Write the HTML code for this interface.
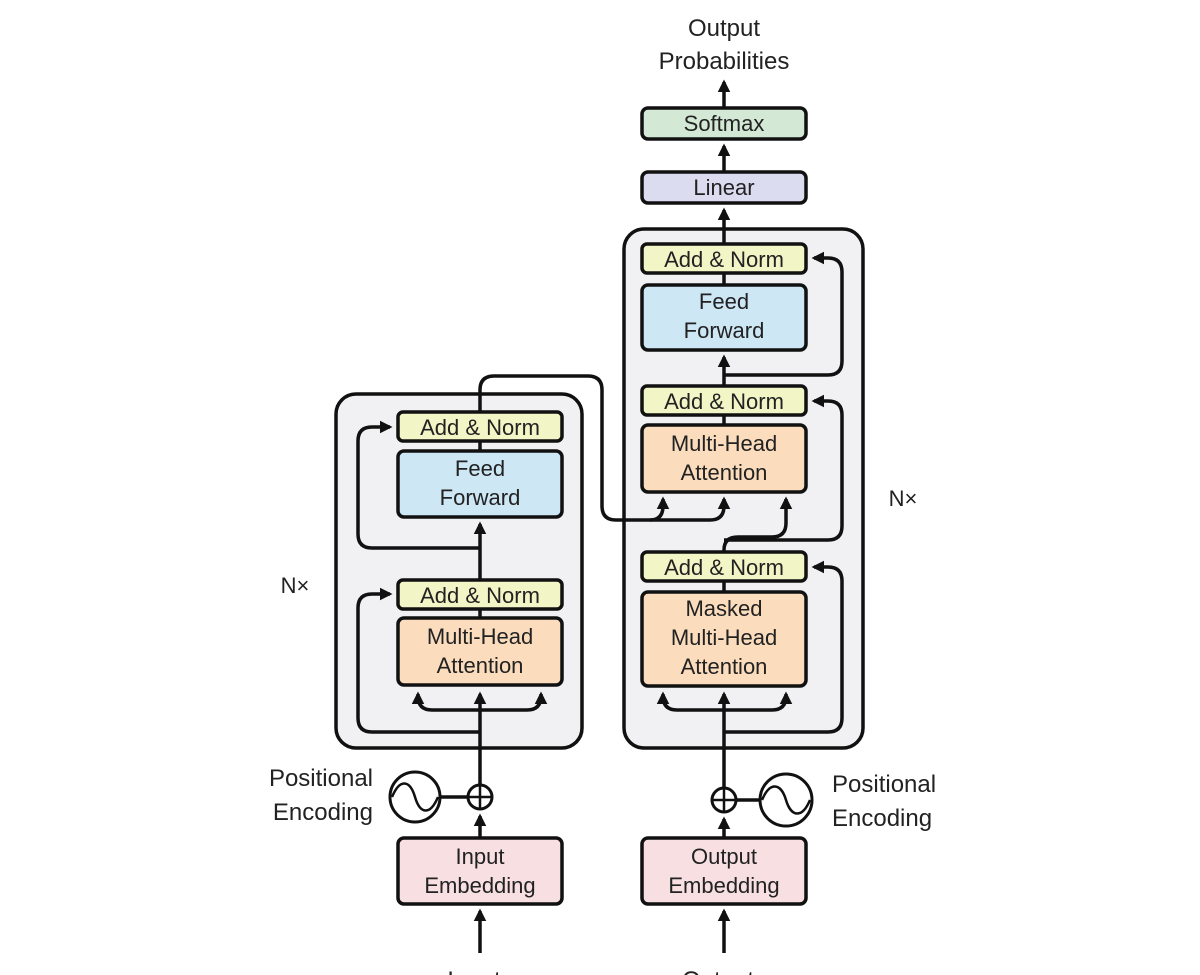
<!DOCTYPE html>
<html><head><meta charset="utf-8"><style>
html,body{margin:0;padding:0;background:#fff}
svg{display:block}
text{font-family:"Liberation Sans",sans-serif;font-size:22px;fill:#222;text-anchor:middle}
</style></head><body>
<svg width="1200" height="975" viewBox="0 0 1200 975" xmlns="http://www.w3.org/2000/svg">
<defs>
<marker id="a" viewBox="0 0 10 10" refX="8" refY="5" markerWidth="3.6" markerHeight="3.6" orient="auto"><path d="M0,0 L10,5 L0,10 z" fill="#111"/></marker>
</defs>
<g fill="none" stroke="#111" stroke-width="3.5">
<rect x="336" y="394" width="246" height="354" rx="20" fill="#f1f1f3"/>
<rect x="624" y="229" width="239" height="519" rx="20" fill="#f1f1f3"/>
</g>
<g stroke="#111" stroke-width="3.5" fill="none">
<line x1="480" y1="748" x2="480" y2="694" marker-end="url(#a)"/>
<line x1="480" y1="609" x2="480" y2="618"/>
<line x1="480" y1="580" x2="480" y2="524" marker-end="url(#a)"/>
<line x1="480" y1="441" x2="480" y2="451"/>
<path d="M480,710 L432,710 Q418,710 418,696 L418,694" marker-end="url(#a)"/>
<path d="M480,710 L527,710 Q541,710 541,696 L541,694" marker-end="url(#a)"/>
<path d="M480,732 L372,732 Q358,732 358,718 L358,608 Q358,594 372,594 L390,594" marker-end="url(#a)"/>
<path d="M480,548 L372,548 Q358,548 358,534 L358,441 Q358,427 372,427 L390,427" marker-end="url(#a)"/>
<path d="M480,412 L480,390 Q480,376 494,376 L588,376 Q602,376 602,390 L602,506 Q602,520 616,520 L650,520 Q663,520 663,506 L663,499" marker-end="url(#a)"/>
<path d="M650,520 L710,520 Q724,520 724,506 L724,499" marker-end="url(#a)"/>
<line x1="724" y1="748" x2="724" y2="694" marker-end="url(#a)"/>
<path d="M724,710 L677,710 Q663,710 663,696 L663,694" marker-end="url(#a)"/>
<path d="M724,710 L772,710 Q786,710 786,696 L786,694" marker-end="url(#a)"/>
<line x1="724" y1="581" x2="724" y2="592"/>
<path d="M724,552 L724,550 Q724,537 738,537 L772,537 Q786,537 786,523 L786,499" marker-end="url(#a)"/>
<line x1="724" y1="415" x2="724" y2="425"/>
<line x1="724" y1="386" x2="724" y2="357" marker-end="url(#a)"/>
<line x1="724" y1="273" x2="724" y2="285"/>
<line x1="724" y1="244" x2="724" y2="210" marker-end="url(#a)"/>
<line x1="724" y1="172" x2="724" y2="146" marker-end="url(#a)"/>
<line x1="724" y1="108" x2="724" y2="82" marker-end="url(#a)"/>
<path d="M724,732 L828,732 Q842,732 842,718 L842,581 Q842,567 828,567 L814,567" marker-end="url(#a)"/>
<path d="M724,540 L828,540 Q842,540 842,526 L842,415 Q842,401 828,401 L814,401" marker-end="url(#a)"/>
<path d="M724,375 L828,375 Q842,375 842,361 L842,272 Q842,258 828,258 L814,258" marker-end="url(#a)"/>
<line x1="480" y1="953" x2="480" y2="911" marker-end="url(#a)"/>
<line x1="724" y1="953" x2="724" y2="911" marker-end="url(#a)"/>
<line x1="480" y1="838" x2="480" y2="816" marker-end="url(#a)"/>
<line x1="724" y1="838" x2="724" y2="819" marker-end="url(#a)"/>
<line x1="480" y1="785" x2="480" y2="748"/>
<line x1="724" y1="788" x2="724" y2="748"/>
<line x1="440" y1="797" x2="468" y2="797"/>
<line x1="736" y1="800" x2="760" y2="800"/>
</g>
<g stroke="#111" stroke-width="3" fill="#fff">
<circle cx="480" cy="797" r="12"/>
<circle cx="724" cy="800" r="12"/>
<circle cx="415" cy="797" r="25"/>
<circle cx="786" cy="800" r="26"/>
</g>
<g stroke="#111" stroke-width="2.5" fill="none">
<path d="M468,797 L492,797 M480,785 L480,809 M712,800 L736,800 M724,788 L724,812"/>
<path d="M392,797 C400,778 410,780 415,797 C420,814 430,816 438,797"/>
<path d="M762,800 C770,781 781,783 786,800 C791,817 802,819 810,800"/>
</g>
<g stroke="#111" stroke-width="3.5">
<rect x="398" y="412" width="164" height="29" rx="5" fill="#f2f5c6"/>
<rect x="398" y="451" width="164" height="66" rx="6" fill="#cde7f5"/>
<rect x="398" y="580" width="164" height="29" rx="5" fill="#f2f5c6"/>
<rect x="398" y="618" width="164" height="67" rx="6" fill="#fbddbd"/>
<rect x="398" y="838" width="164" height="66" rx="6" fill="#f7dfe2"/>
<rect x="642" y="244" width="164" height="29" rx="5" fill="#f2f5c6"/>
<rect x="642" y="285" width="164" height="65" rx="6" fill="#cde7f5"/>
<rect x="642" y="386" width="164" height="29" rx="5" fill="#f2f5c6"/>
<rect x="642" y="425" width="164" height="67" rx="6" fill="#fbddbd"/>
<rect x="642" y="552" width="164" height="29" rx="5" fill="#f2f5c6"/>
<rect x="642" y="592" width="164" height="94" rx="6" fill="#fbddbd"/>
<rect x="642" y="838" width="164" height="66" rx="6" fill="#f7dfe2"/>
<rect x="642" y="172" width="164" height="31" rx="6" fill="#dcdcf1"/>
<rect x="642" y="108" width="164" height="31" rx="6" fill="#d3e9d5"/>
</g>
<text x="480" y="435">Add &amp; Norm</text>
<text x="480" y="476">Feed</text><text x="480" y="505">Forward</text>
<text x="480" y="603">Add &amp; Norm</text>
<text x="480" y="644">Multi-Head</text><text x="480" y="673">Attention</text>
<text x="480" y="864">Input</text><text x="480" y="893">Embedding</text>
<text x="724" y="267">Add &amp; Norm</text>
<text x="724" y="309">Feed</text><text x="724" y="338">Forward</text>
<text x="724" y="409">Add &amp; Norm</text>
<text x="724" y="451">Multi-Head</text><text x="724" y="480">Attention</text>
<text x="724" y="575">Add &amp; Norm</text>
<text x="724" y="616">Masked</text><text x="724" y="645">Multi-Head</text><text x="724" y="674">Attention</text>
<text x="724" y="864">Output</text><text x="724" y="893">Embedding</text>
<text x="724" y="195">Linear</text>
<text x="724" y="131">Softmax</text>
<text x="724" y="36" style="font-size:24px">Output</text>
<text x="724" y="69" style="font-size:24px">Probabilities</text>
<text x="295" y="593">N×</text>
<text x="903" y="506">N×</text>
<text x="373" y="786" style="text-anchor:end;font-size:24px">Positional</text>
<text x="373" y="820" style="text-anchor:end;font-size:24px">Encoding</text>
<text x="832" y="792" style="text-anchor:start;font-size:24px">Positional</text>
<text x="832" y="826" style="text-anchor:start;font-size:24px">Encoding</text>
<text x="480" y="988" style="font-size:24px">Inputs</text>
<text x="724" y="988" style="font-size:24px">Outputs</text>
</svg>
</body></html>
